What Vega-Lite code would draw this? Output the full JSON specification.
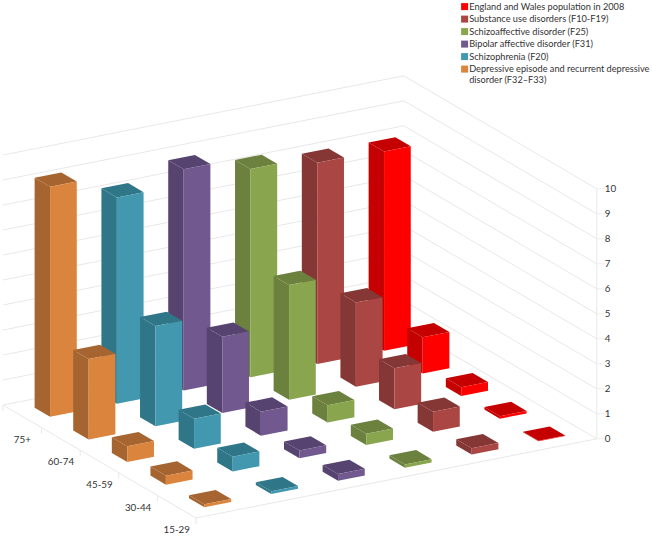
{
"$schema":"https://vega.github.io/schema/vega-lite/v6.json",
"width":652,"height":537,"padding":0,
"autosize":{"type":"fit","contains":"padding"},
"background":"white",
"config":{"view":{"stroke":null},"font":"Lato"},
"datasets":{
"bars":[
{"series":"England and Wales population in 2008","age":"75+","value":7.97},
{"series":"Substance use disorders (F10-F19)","age":"75+","value":8.05},
{"series":"Schizoaffective disorder (F25)","age":"75+","value":8.33},
{"series":"Bipolar affective disorder (F31)","age":"75+","value":8.85},
{"series":"Schizophrenia (F20)","age":"75+","value":8.25},
{"series":"Depressive episode and recurrent depressive disorder (F32–F33)","age":"75+","value":9.2},
{"series":"England and Wales population in 2008","age":"60-74","value":1.45},
{"series":"Substance use disorders (F10-F19)","age":"60-74","value":3.37},
{"series":"Schizoaffective disorder (F25)","age":"60-74","value":4.59},
{"series":"Bipolar affective disorder (F31)","age":"60-74","value":3.05},
{"series":"Schizophrenia (F20)","age":"60-74","value":4.01},
{"series":"Depressive episode and recurrent depressive disorder (F32–F33)","age":"60-74","value":3.22},
{"series":"England and Wales population in 2008","age":"45-59","value":0.35},
{"series":"Substance use disorders (F10-F19)","age":"45-59","value":1.64},
{"series":"Schizoaffective disorder (F25)","age":"45-59","value":0.69},
{"series":"Bipolar affective disorder (F31)","age":"45-59","value":0.96},
{"series":"Schizophrenia (F20)","age":"45-59","value":1.2},
{"series":"Depressive episode and recurrent depressive disorder (F32–F33)","age":"45-59","value":0.63},
{"series":"England and Wales population in 2008","age":"30-44","value":0.1},
{"series":"Substance use disorders (F10-F19)","age":"30-44","value":0.8},
{"series":"Schizoaffective disorder (F25)","age":"30-44","value":0.45},
{"series":"Bipolar affective disorder (F31)","age":"30-44","value":0.31},
{"series":"Schizophrenia (F20)","age":"30-44","value":0.59},
{"series":"Depressive episode and recurrent depressive disorder (F32–F33)","age":"30-44","value":0.36},
{"series":"England and Wales population in 2008","age":"15-29","value":0.02},
{"series":"Substance use disorders (F10-F19)","age":"15-29","value":0.25},
{"series":"Schizoaffective disorder (F25)","age":"15-29","value":0.13},
{"series":"Bipolar affective disorder (F31)","age":"15-29","value":0.27},
{"series":"Schizophrenia (F20)","age":"15-29","value":0.11},
{"series":"Depressive episode and recurrent depressive disorder (F32–F33)","age":"15-29","value":0.12}
],
"ticks":[{"tick":0},{"tick":1},{"tick":2},{"tick":3},{"tick":4},{"tick":5},{"tick":6},{"tick":7},{"tick":8},{"tick":9},{"tick":10}],
"ages":[{"age":"15-29","j":0.5},{"age":"30-44","j":1.5},{"age":"45-59","j":2.5},{"age":"60-74","j":3.5},{"age":"75+","j":4.5}]
},
"layer":[
{"data":{"name":"ticks"},
 "transform":[
  {"calculate":"196-38.6*5","as":"x1"},{"calculate":"518-22.6*5-25*datum.tick","as":"y1"},
  {"calculate":"196+66.8*6-38.6*5","as":"x2"},{"calculate":"518-13.2*6-22.6*5-25*datum.tick","as":"y2"}],
 "mark":{"type":"rule","color":"#e8e8e8","strokeWidth":1},
 "encoding":{"x":{"field":"x1","type":"quantitative","scale":{"domain":[0,652],"range":[0,652],"nice":false,"zero":false},"axis":null},
  "y":{"field":"y1","type":"quantitative","scale":{"domain":[0,537],"range":[0,537],"nice":false,"zero":false},"axis":null},
  "x2":{"field":"x2"},"y2":{"field":"y2"}}},
{"data":{"name":"ticks"},
 "transform":[
  {"calculate":"196+66.8*6","as":"x1"},{"calculate":"518-13.2*6-25*datum.tick","as":"y1"},
  {"calculate":"196+66.8*6-38.6*5","as":"x2"},{"calculate":"518-13.2*6-22.6*5-25*datum.tick","as":"y2"}],
 "mark":{"type":"rule","color":"#e8e8e8","strokeWidth":1},
 "encoding":{"x":{"field":"x1","type":"quantitative","axis":null},"y":{"field":"y1","type":"quantitative","axis":null},"x2":{"field":"x2"},"y2":{"field":"y2"}}},
{"data":{"name":"ticks"},
 "transform":[{"calculate":"196+66.8*6","as":"x1"},{"calculate":"518-13.2*6-25*datum.tick","as":"y1"}],
 "mark":{"type":"tick","orient":"horizontal","color":"#e8e8e8","size":8,"thickness":1,"xOffset":4},
 "encoding":{"x":{"field":"x1","type":"quantitative","axis":null},"y":{"field":"y1","type":"quantitative","axis":null}}},
{"data":{"values":[{"i1":0,"j1":0,"v1":0,"i2":0,"j2":5,"v2":0},{"i1":0,"j1":0,"v1":0,"i2":6,"j2":0,"v2":0},{"i1":6,"j1":0,"v1":0,"i2":6,"j2":0,"v2":10}]},
 "transform":[
  {"calculate":"196+66.8*datum.i1-38.6*datum.j1","as":"x1"},{"calculate":"518-13.2*datum.i1-22.6*datum.j1-25*datum.v1","as":"y1"},
  {"calculate":"196+66.8*datum.i2-38.6*datum.j2","as":"x2"},{"calculate":"518-13.2*datum.i2-22.6*datum.j2-25*datum.v2","as":"y2"}],
 "mark":{"type":"rule","color":"#e8e8e8","strokeWidth":1},
 "encoding":{"x":{"field":"x1","type":"quantitative","axis":null},"y":{"field":"y1","type":"quantitative","axis":null},"x2":{"field":"x2"},"y2":{"field":"y2"}}},
{"data":{"values":[{"j":0},{"j":1},{"j":2},{"j":3},{"j":4},{"j":5}]},
 "transform":[{"calculate":"196-38.6*datum.j","as":"x1"},{"calculate":"518-22.6*datum.j","as":"y1"}],
 "mark":{"type":"rule","color":"#e8e8e8","strokeWidth":1,"y2Offset":6},
 "encoding":{"x":{"field":"x1","type":"quantitative","axis":null},"y":{"field":"y1","type":"quantitative","axis":null},"y2":{"field":"y1"}}},
{"data":{"name":"bars"},
 "transform":[
  {"calculate":"indexof(['Depressive episode and recurrent depressive disorder (F32–F33)','Schizophrenia (F20)','Bipolar affective disorder (F31)','Schizoaffective disorder (F25)','Substance use disorders (F10-F19)','England and Wales population in 2008'],datum.series)","as":"i"},
  {"calculate":"indexof(['15-29','30-44','45-59','60-74','75+'],datum.age)","as":"j"},
  {"calculate":"['side','top','front']","as":"face"},{"flatten":["face"]},
  {"calculate":"[0,1,2,3]","as":"vtx"},{"flatten":["vtx"]},
  {"calculate":"datum.face=='side'?0.3:(datum.vtx==1||datum.vtx==2?0.7:0.3)","as":"di"},
  {"calculate":"datum.face=='front'?0.3:datum.face=='side'?(datum.vtx==1||datum.vtx==2?0.7:0.3):(datum.vtx>=2?0.7:0.3)","as":"dj"},
  {"calculate":"datum.face=='top'?datum.value:(datum.vtx>=2?datum.value:0)","as":"h"},
  {"calculate":"196+66.8*(datum.i+datum.di)-38.6*(datum.j+datum.dj)","as":"px"},
  {"calculate":"518-13.2*(datum.i+datum.di)-22.6*(datum.j+datum.dj)-25*datum.h","as":"py"},
  {"calculate":"datum.series+'|'+datum.face","as":"shade"},
  {"calculate":"datum.series+'|'+datum.age+'|'+datum.face","as":"polygon"}
 ],
 "mark":{"type":"line","interpolate":"linear-closed","filled":true,"strokeWidth":0},
 "encoding":{
  "x":{"field":"px","type":"quantitative","axis":null},
  "y":{"field":"py","type":"quantitative","axis":null},
  "detail":{"field":"polygon"},
  "order":{"field":"vtx","type":"quantitative"},
  "color":{"field":"shade","type":"nominal",
   "scale":{"domain":[
    "England and Wales population in 2008|front","England and Wales population in 2008|side","England and Wales population in 2008|top",
    "Substance use disorders (F10-F19)|front","Substance use disorders (F10-F19)|side","Substance use disorders (F10-F19)|top",
    "Schizoaffective disorder (F25)|front","Schizoaffective disorder (F25)|side","Schizoaffective disorder (F25)|top",
    "Bipolar affective disorder (F31)|front","Bipolar affective disorder (F31)|side","Bipolar affective disorder (F31)|top",
    "Schizophrenia (F20)|front","Schizophrenia (F20)|side","Schizophrenia (F20)|top",
    "Depressive episode and recurrent depressive disorder (F32–F33)|front","Depressive episode and recurrent depressive disorder (F32–F33)|side","Depressive episode and recurrent depressive disorder (F32–F33)|top"],
    "range":["#FF0000","#C40000","#C40000","#AA4643","#853735","#853735","#89A54E","#6C813E","#6C813E","#71588F","#57436F","#57436F","#4198AF","#307689","#307689","#DB843D","#A66530","#A66530"]},
   "legend":{"orient":"none","legendX":460,"legendY":2,"title":null,"symbolType":"square","symbolSize":49,"symbolStrokeWidth":0,"labelFontSize":9.2,"labelFont":"Lato","labelColor":"#333333","labelLimit":400,"rowPadding":2.5,"labelOffset":0,"symbolOpacity":1,
    "values":["England and Wales population in 2008|front","Substance use disorders (F10-F19)|front","Schizoaffective disorder (F25)|front","Bipolar affective disorder (F31)|front","Schizophrenia (F20)|front","Depressive episode and recurrent depressive disorder (F32–F33)|front"],
    "labelExpr":"indexof(datum.label,'Depressive')==0?['Depressive episode and recurrent depressive','disorder (F32–F33)']:split(datum.label,'|')[0]"}}
 }},
{"data":{"name":"ticks"},
 "transform":[{"calculate":"196+66.8*6","as":"x1"},{"calculate":"518-13.2*6-25*datum.tick","as":"y1"}],
 "mark":{"type":"text","align":"left","baseline":"middle","dx":8,"dy":0.5,"fontSize":9.8,"font":"Lato","color":"#333333"},
 "encoding":{"x":{"field":"x1","type":"quantitative","axis":null},"y":{"field":"y1","type":"quantitative","axis":null},"text":{"field":"tick","type":"quantitative"}}},
{"data":{"name":"ages"},
 "transform":[{"calculate":"196-38.6*datum.j","as":"x1"},{"calculate":"518-22.6*datum.j","as":"y1"}],
 "mark":{"type":"text","align":"center","baseline":"middle","dy":23.5,"fontSize":9.8,"font":"Lato","color":"#333333"},
 "encoding":{"x":{"field":"x1","type":"quantitative","axis":null},"y":{"field":"y1","type":"quantitative","axis":null},"text":{"field":"age","type":"nominal"}}}
]
}
